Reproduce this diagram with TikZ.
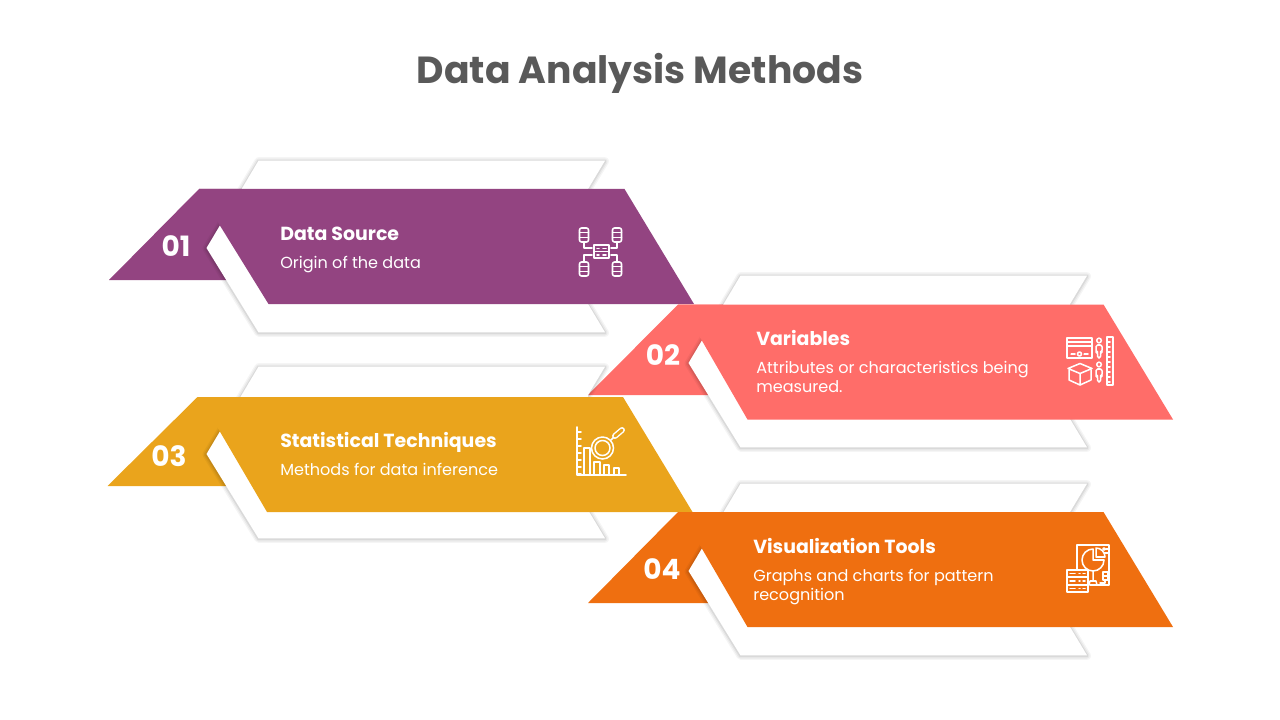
\documentclass[tikz,border=0pt]{standalone}
\usepackage{fontspec}
\setmainfont{Poppins}
\usetikzlibrary{positioning}
\definecolor{titlegray}{HTML}{595959}
\definecolor{plum}{HTML}{934481}
\definecolor{salmon}{HTML}{FF6D69}
\definecolor{amber}{HTML}{EAA41C}
\definecolor{tangerine}{HTML}{EF6F10}
\tikzstyle{heading}=[anchor=west,inner sep=0pt,text=white,font=\fontsize{14.2}{17}\selectfont\bfseries]
\tikzstyle{detail}=[anchor=west,inner sep=0pt,text=white,align=left,font=\fontsize{12.05}{14.25}\selectfont]
\tikzstyle{number}=[inner sep=0pt,text=white,font=\fontsize{21}{24}\selectfont\bfseries]
\tikzstyle{icon}=[draw=white,line width=1.15pt,line join=round,line cap=round]
\def\plateoutline{(258.5,160.7) -- (605,160.7) -- (588,189) -- (588,304) -- (605,332.3) -- (258.5,332.3) -- (206.5,248) -- cycle}
\newcommand{\ribbon}[5]{
  \begin{scope}[shift={(#1,#2)}]
    \fill[#3] (199,189) -- (109,280+#5-#2) -- (245,280+#5-#2) -- (245,189) -- cycle;
  \end{scope}
  \begin{scope}[shift={(#4,#5)}]
    \foreach \w/\o in {6/.04,4/.05,2/.07}
      \draw[black,opacity=\o,line width=\w,line join=round,yshift=-.4pt] \plateoutline;
    \fill[white] \plateoutline;
  \end{scope}
  \begin{scope}[shift={(#1,#2)}]
    \fill[#3] (199,189) -- (624.5,189) -- (694,304) -- (268.5,304) -- (219+#4-#1,224+#5-#2) -- cycle;
  \end{scope}
}
\newcommand{\drum}[2]{
  \draw[icon,rounded corners=1.5] (#1-4.5,#2-7) rectangle (#1+4.5,#2+7);
  \draw[icon] (#1-4.5,#2-2.3) -- (#1+4.5,#2-2.3) (#1-4.5,#2+2.3) -- (#1+4.5,#2+2.3);
}
\newcommand{\person}[2]{
  \draw[icon] (#1,#2+2.5) circle (2.3);
  \draw[icon,rounded corners=1.2] (#1-3,#2+14) -- (#1-3,#2+7) -- (#1+3,#2+7) -- (#1+3,#2+14) -- (#1+1.5,#2+14) -- (#1+1.5,#2+20) -- (#1-1.5,#2+20) -- (#1-1.5,#2+14) -- cycle;
}
\begin{document}
\begin{tikzpicture}[x=.75pt,y=-.75pt]
  \useasboundingbox (0,0) rectangle (1280,720);
  \node[text=titlegray,inner sep=0pt,font=\fontsize{28.3}{32}\selectfont\bfseries] (title) at (640,73) {Data Analysis Methods};

  \ribbon{0}{0}{plum}{0}{0}
  \ribbon{479}{115.5}{salmon}{482}{115}
  \ribbon{-1.5}{208}{amber}{0}{206}
  \ribbon{479}{323}{tangerine}{482}{323}

  \node[number] (num1) at (176,246) {01};
  \node[heading] (head1) at (280,234) {Data Source};
  \node[detail] (text1) at (280,265) {Origin of the data};

  \node[number] (num2) at (663,355) {02};
  \node[heading] (head2) at (756,338) {Variables};
  \node[detail] (text2) at (756,376.5) {Attributes or characteristics being\\measured.};

  \node[number] (num3) at (169,456) {03};
  \node[heading] (head3) at (280,442) {Statistical Techniques};
  \node[detail] (text3) at (280,469) {Methods for data inference};

  \node[number] (num4) at (662,569) {04};
  \node[heading] (head4) at (753,546) {Visualization Tools};
  \node[detail] (text4) at (753,587.5) {Graphs and charts for pattern\\recognition};

  % icon 1
  \drum{584}{235}
  \drum{617}{235}
  \drum{584}{269}
  \drum{617}{269}
  \draw[icon] (594,245) rectangle (609,258) (594,251.5) -- (609,251.5);
  \draw[icon] (597,248.3) -- (599,248.3) (603,248.3) -- (606,248.3) (597,254.8) -- (599,254.8) (603,254.8) -- (606,254.8);
  \draw[icon] (584,243) -- (584,248) -- (592,248) (617,243) -- (617,248) -- (611,248);
  \draw[icon] (584,261) -- (584,255) -- (592,255) (617,261) -- (617,255) -- (611,255);

  % icon 2
  \draw[icon] (1067,338) rectangle (1092,358) (1067,342) -- (1092,342) (1067,346) -- (1092,346);
  \draw[icon] (1079.5,354) circle (2) (1071,354) -- (1075,354) (1084,354) -- (1088,354);
  \draw[icon] (1068,368.5) -- (1080,363.5) -- (1092,368.5) -- (1080,373.5) -- cycle;
  \draw[icon] (1069,370) -- (1069,380) -- (1080,385) -- (1091,380) -- (1091,370) (1080,373.5) -- (1080,385);
  \person{1099}{338}
  \person{1099}{362}
  \draw[icon] (1107,337) rectangle (1113,385);
  \foreach \t in {342,347,...,382}
    \draw[icon] (1107,\t) -- (1110,\t);

  % icon 3
  \draw[icon] (577,427) -- (577,475) -- (626,475);
  \foreach \t in {432,439,...,474}
    \draw[icon] (577,\t) -- (581,\t);
  \draw[icon] (584,475) -- (584,448) -- (590,448) -- (590,475);
  \draw[icon] (594,475) -- (594,462) -- (600,462) -- (600,475);
  \draw[icon] (604,475) -- (604,465) -- (609,465) -- (609,475);
  \draw[icon] (614,475) -- (614,468) -- (619,468) -- (619,475);
  \draw[icon,fill=amber] (602.5,448) circle (11);
  \draw[icon] (602.5,448) circle (7.5);
  \draw[icon] (611,440) -- (614,437);
  \draw[white,line width=4.4pt,line cap=round] (615,436) -- (622,430);
  \draw[amber,line width=2.2pt,line cap=round] (615,436) -- (622,430);

  % icon 4
  \draw[icon] (1077,570) -- (1077,545) -- (1109,545) -- (1109,585) -- (1090,585);
  \draw[icon] (1093,560) -- (1093,549) arc (-90:-360:11) -- cycle;
  \draw[icon] (1096,557) -- (1096,548) arc (-90:0:9) -- cycle;
  \draw[icon] (1093,571) -- (1093,580) (1089,585) -- (1090,581) -- (1096,581) -- (1097,585);
  \draw[icon] (1104,549) circle (1.2) (1108,549) -- (1106,549) (1104,553) -- (1108,553);
  \draw[icon] (1103,572) rectangle (1108,580) (1103,576) -- (1108,576) (1100,583) -- (1105,583) -- (1105,580);
  \draw[icon,fill=tangerine] (1067,570) rectangle (1088,592);
  \draw[icon] (1067,577) -- (1088,577) (1067,585) -- (1088,585);
  \foreach \t in {573.5,581,588.5}
    \draw[icon] (1070,\t) -- (1075,\t) (1079,\t) -- (1080,\t) (1083,\t) -- (1085,\t);
\end{tikzpicture}
\end{document}
